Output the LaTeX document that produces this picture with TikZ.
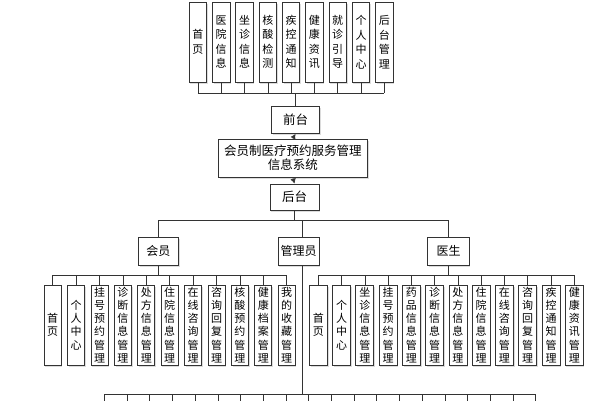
\documentclass[tikz,border=0pt]{standalone}
\usepackage{fontspec}
\setmainfont{Noto Sans CJK SC}
\usetikzlibrary{arrows.meta,shadows,calc}
\begin{document}
\begin{tikzpicture}[x=1pt,y=-1pt,
  basebox/.style={draw=black!80, line width=0.8pt, fill=white, inner sep=0pt, align=center,
    drop shadow={shadow xshift=1.2pt, shadow yshift=-1.8pt, fill=black!30, opacity=0.45}},
  vbox/.style={basebox, minimum width=17.5pt, minimum height=80pt, font=\fontsize{11}{14.5}\selectfont},
  vboxb/.style={basebox, minimum width=17.5pt, minimum height=80pt, font=\fontsize{11}{13.2}\selectfont},
  hbox/.style={basebox, font=\fontsize{12.5}{14}\selectfont},
  conn/.style={draw=black!80, line width=0.6pt},
  arr/.style={conn, -{Latex[length=5pt,width=5.5pt]}}
]
\fill[white] (0,0) rectangle (594,400);
\useasboundingbox (0,0) rectangle (594,400);

% top row
\foreach \t [count=\i from 0] in {{首\\页},{医\\院\\信\\息},{坐\\诊\\信\\息},{核\\酸\\检\\测},{疾\\控\\通\\知},{健\\康\\资\\讯},{就\\诊\\引\\导},{个\\人\\中\\心},{后\\台\\管\\理}}
  \node[vbox] (t\i) at (197.9+23.3*\i, 42) {\t};

\node[hbox, minimum width=48pt, minimum height=27pt] (qt) at (295.5,120) {前台};
\node[hbox, minimum width=149pt, minimum height=38pt] (main) at (292.8,158) {会员制医疗预约服务管理\\信息系统};
\node[hbox, minimum width=49pt, minimum height=26pt] (ht) at (294.5,197) {后台};

\node[hbox, minimum width=40pt, minimum height=28pt, font=\fontsize{12}{14}\selectfont] (hy) at (158.3,251) {会员};
\node[hbox, minimum width=41pt, minimum height=28pt, font=\fontsize{12}{14}\selectfont] (gly) at (298.7,251) {管理员};
\node[hbox, minimum width=41.5pt, minimum height=28pt, font=\fontsize{12}{14}\selectfont] (ys) at (448.5,251) {医生};

% member row
\foreach \t [count=\i from 0] in {{首\\页},{个\\人\\中\\心},{挂\\号\\预\\约\\管\\理},{诊\\断\\信\\息\\管\\理},{处\\方\\信\\息\\管\\理},{住\\院\\信\\息\\管\\理},{在\\线\\咨\\询\\管\\理},{咨\\询\\回\\复\\管\\理},{核\\酸\\预\\约\\管\\理},{健\\康\\档\\案\\管\\理},{我\\的\\收\\藏\\管\\理}}
  \node[vboxb, minimum width=17pt] (m\i) at (52.7+23.4*\i, 325) {\t};

% doctor row
\foreach \t [count=\i from 0] in {{首\\页},{个\\人\\中\\心},{坐\\诊\\信\\息\\管\\理},{挂\\号\\预\\约\\管\\理},{药\\品\\信\\息\\管\\理},{诊\\断\\信\\息\\管\\理},{处\\方\\信\\息\\管\\理},{住\\院\\信\\息\\管\\理},{在\\线\\咨\\询\\管\\理},{咨\\询\\回\\复\\管\\理},{疾\\控\\通\\知\\管\\理},{健\\康\\资\\讯\\管\\理}}
  \node[vboxb, minimum width=18pt] (d\i) at (318.3+23.27*\i, 325) {\t};

% buses
\coordinate (b1) at (0,93.3);
\coordinate (b2) at (0,220.7);
\coordinate (b3) at (0,275);
\coordinate (b4) at (0,394);

% top connections
\foreach \i in {0,...,8} \draw[conn] (t\i.south) -- (t\i.south |- b1);
\draw[conn] (t0.south |- b1) -- (t8.south |- b1);
\draw[conn] (qt.north) -- (qt.north |- b1);

\draw[arr] (main.north) -- (qt.south);
\draw[arr] (main.south) -- (ht.north);

% second level
\draw[conn] (ht.south) -- (ht.south |- b2);
\draw[conn] (hy.north |- b2) -- (ys.north |- b2);
\draw[conn] (hy.north |- b2) -- (hy.north);
\coordinate (gx) at ($(gly.north)+(4,0)$);
\coordinate (gxs) at ($(gly.south)+(4,0)$);
\draw[conn] (gx |- b2) -- (gx);
\draw[conn] (ys.north |- b2) -- (ys.north);

% member bus
\draw[conn] (hy.south) -- (hy.south |- b3);
\draw[conn] (m0.north |- b3) -- (m10.north |- b3);
\foreach \i in {0,...,10} \draw[conn] (m\i.north |- b3) -- (m\i.north);

% doctor bus
\draw[conn] (ys.south) -- (ys.south |- b3);
\draw[conn] (d0.north |- b3) -- (d11.north |- b3);
\foreach \i in {0,...,11} \draw[conn] (d\i.north |- b3) -- (d\i.north);

% admin bus (bottom, cut off)
\draw[conn] (gxs) -- (gxs |- b4);
\foreach \i in {0,...,19} \coordinate (e\i) at (104.3+22.7*\i, 402);
\draw[conn] (e0 |- b4) -- (e19 |- b4);
\foreach \i in {0,...,19} \draw[conn] (e\i |- b4) -- (e\i);
\end{tikzpicture}
\end{document}
